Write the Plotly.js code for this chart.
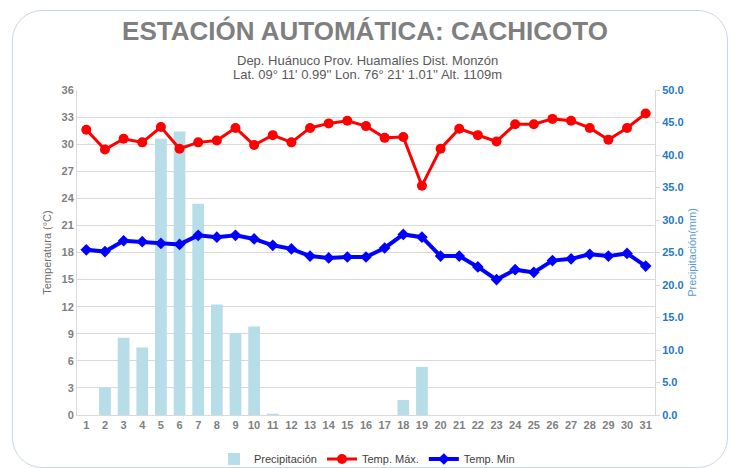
<!DOCTYPE html>
<html>
<head>
<meta charset="utf-8">
<script src="https://cdn.plot.ly/plotly-3.0.1.min.js"></script>
<style>
  html, body { margin: 0; padding: 0; background: #ffffff; }
  #wrap { position: relative; width: 730px; height: 468px; }
  #chart { position: absolute; left: 0; top: 0; width: 730px; height: 468px; }
  #frame { position: absolute; left: 12px; top: 10px; width: 714px; height: 456px;
           border: 1px solid #c9d7ea; border-radius: 30px; pointer-events: none; }
</style>
</head>
<body>
<div id="wrap">
  <div id="chart"></div>
  <div id="frame"></div>
</div>
<script>
const days = [1,2,3,4,5,6,7,8,9,10,11,12,13,14,15,16,17,18,19,20,21,22,23,24,25,26,27,28,29,30,31];
const precipitacion = [0,4.2,11.9,10.4,42.5,43.6,32.5,17.0,12.6,13.6,0.2,0,0,0,0,0,0,2.3,7.4,0,0,0,0,0,0,0,0,0,0,0,0];
const tempMax = [31.6,29.4,30.6,30.2,31.9,29.5,30.2,30.4,31.8,29.9,31.0,30.2,31.8,32.3,32.6,32.0,30.7,30.8,25.4,29.5,31.7,31.0,30.3,32.2,32.2,32.8,32.6,31.8,30.5,31.8,33.4];
const tempMin = [18.3,18.1,19.3,19.2,19.0,18.9,19.9,19.7,19.9,19.5,18.8,18.4,17.6,17.4,17.5,17.5,18.5,20.0,19.7,17.6,17.6,16.4,15.0,16.1,15.8,17.1,17.3,17.8,17.6,17.9,16.5];
const tempTicks = [0,3,6,9,12,15,18,21,24,27,30,33,36];
const precTicks = [0,5,10,15,20,25,30,35,40,45,50];

const FONT = 'Liberation Sans, Arial, sans-serif';

const traces = [
  {
    type: 'bar', name: 'Precipitación', x: days, y: precipitacion, yaxis: 'y',
    marker: { color: '#b7dde8' }, width: 0.63, hoverinfo: 'skip'
  },
  {
    type: 'scatter', mode: 'lines+markers', name: 'Temp. Máx.', x: days, y: tempMax, yaxis: 'y2',
    line: { color: '#ff0000', width: 3 },
    marker: { color: '#ff0000', symbol: 'circle', size: 10 }, hoverinfo: 'skip'
  },
  {
    type: 'scatter', mode: 'lines+markers', name: 'Temp. Min', x: days, y: tempMin, yaxis: 'y2',
    line: { color: '#0000ff', width: 4 },
    marker: { color: '#0000ff', symbol: 'diamond', size: 9 }, hoverinfo: 'skip'
  }
];

const layout = {
  width: 730, height: 468,
  margin: { l: 77, r: 75, t: 90, b: 53 },
  paper_bgcolor: '#ffffff', plot_bgcolor: '#ffffff',
  font: { family: FONT, color: '#595959' },
  title: {
    text: '<b>ESTACIÓN AUTOMÁTICA: CACHICOTO</b>',
    font: { family: FONT, size: 26, color: '#7f7f7f' },
    x: 0.5, xref: 'container', xanchor: 'center',
    y: 1 - 31/468, yref: 'container', yanchor: 'middle'
  },
  annotations: [
    { text: 'Dep. Huánuco Prov. Huamalíes Dist. Monzón', xref: 'paper', yref: 'paper',
      x: (367-77)/578, y: (415-60)/325, xanchor: 'center', yanchor: 'middle', showarrow: false,
      font: { family: FONT, size: 13, color: '#595959' } },
    { text: "Lat. 09° 11' 0.99'' Lon. 76° 21' 1.01'' Alt. 1109m", xref: 'paper', yref: 'paper',
      x: (367-77)/578, y: (415-74)/325, xanchor: 'center', yanchor: 'middle', showarrow: false,
      font: { family: FONT, size: 13, color: '#595959' } }
  ],
  xaxis: {
    range: [0.5, 31.5], tickmode: 'array', tickvals: days, ticktext: days.map(String),
    showgrid: false, zeroline: false, showline: true, linecolor: '#d9d9d9', linewidth: 1,
    ticks: '', tickfont: { family: FONT, size: 11, color: '#7f7f7f', weight: 'bold' }
  },
  yaxis: {
    side: 'right', range: [0, 50], tickmode: 'array', tickvals: precTicks,
    ticktext: precTicks.map(v => v.toFixed(1)),
    showgrid: false, zeroline: false, showline: true, linecolor: '#d9d9d9', linewidth: 1,
    ticks: 'outside', ticklen: 4, tickcolor: '#d9d9d9',
    tickfont: { family: FONT, size: 11, color: '#1f78c8', weight: 'bold' },
    title: { text: 'Precipitación(mm)', standoff: 5, font: { family: FONT, size: 11, color: '#5b9bd5' } }
  },
  yaxis2: {
    side: 'left', overlaying: 'y', range: [0, 36], tickmode: 'array', tickvals: tempTicks,
    ticktext: tempTicks.map(String),
    showgrid: true, gridcolor: '#d9d9d9', gridwidth: 1,
    zeroline: false, showline: true, linecolor: '#d9d9d9', linewidth: 1, ticks: '',
    tickfont: { family: FONT, size: 11, color: '#7f7f7f', weight: 'bold' },
    title: { text: 'Temperatura (°C)', standoff: 7, font: { family: FONT, size: 11, color: '#6e6e6e' } }
  },
  showlegend: true,
  legend: {
    orientation: 'h', xref: 'container', x: 367/730, xanchor: 'center',
    yref: 'container', y: 1 - 459/468, yanchor: 'middle',
    font: { family: FONT, size: 11, color: '#404040' }, traceorder: 'normal',
    bgcolor: 'rgba(0,0,0,0)', itemwidth: 30
  },
  bargap: 0.37
};

Plotly.newPlot('chart', traces, layout, { displayModeBar: false, staticPlot: true });
</script>
</body>
</html>
